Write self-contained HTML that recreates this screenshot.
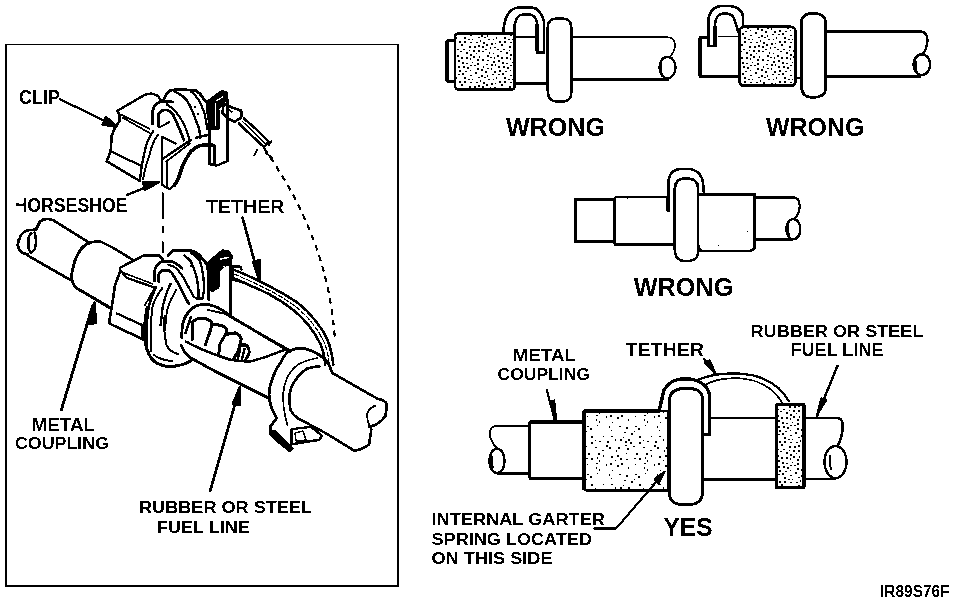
<!DOCTYPE html>
<html><head><meta charset="utf-8">
<style>
html,body{margin:0;padding:0;background:#fff;width:960px;height:604px;overflow:hidden}
svg{display:block}
text{font-family:"Liberation Sans",sans-serif;font-weight:bold;fill:#000}
</style></head><body>
<svg width="960" height="604" viewBox="0 0 960 604">
<defs>
<filter id="bin" x="0" y="0" width="100%" height="100%" color-interpolation-filters="sRGB"><feComponentTransfer><feFuncR type="discrete" tableValues="0 1"/><feFuncG type="discrete" tableValues="0 1"/><feFuncB type="discrete" tableValues="0 1"/></feComponentTransfer></filter>
<pattern id="st" width="40" height="40" patternUnits="userSpaceOnUse"><path d="M39 16h2v2h-2zM22 33h2v2h-2zM1 29h2v2h-2zM15 3h1v1h-1zM10 7h1v2h-1zM15 24h1v2h-1zM34 6h2v2h-2zM26 17h2v2h-2zM11 24h2v2h-2zM8 39h2v1h-2zM0 0h1v2h-1zM13 13h1v1h-1zM18 20h2v2h-2zM12 34h2v1h-2zM19 1h2v2h-2zM23 26h2v2h-2zM38 37h2v1h-2zM21 4h2v2h-2zM19 30h2v2h-2zM20 11h2v1h-2zM30 30h1v1h-1zM11 3h2v2h-2zM1 35h2v2h-2zM26 23h2v1h-2zM24 37h2v2h-2zM2 11h2v1h-2zM7 15h2v2h-2zM32 22h1v1h-1zM33 16h2v2h-2zM29 6h2v2h-2zM37 23h2v2h-2zM13 21h2v2h-2zM32 39h1v2h-1zM23 9h2v1h-2zM21 17h2v2h-2zM5 9h2v1h-2zM34 25h2v1h-2zM3 2h2v2h-2zM3 26h1v2h-1zM30 25h2v1h-2zM5 31h2v2h-2zM35 32h2v2h-2zM2 19h2v2h-2zM30 35h2v1h-2zM22 22h2v2h-2zM11 28h1v2h-1zM33 10h2v2h-2zM30 18h1v2h-1zM37 28h2v2h-2zM7 20h2v1h-2zM4 37h2v1h-2zM7 35h1v2h-1zM18 34h2v1h-2zM38 5h2v2h-2zM27 27h2v2h-2zM14 31h2v2h-2zM17 15h2v2h-2zM30 2h2v1h-2zM17 9h2v1h-2zM14 17h1v2h-1zM25 31h2v1h-2zM6 24h2v1h-2zM36 2h2v1h-2zM14 7h2v1h-2zM36 13h1v1h-1zM29 10h1v1h-1zM6 4h2v2h-2zM38 10h2v2h-2zM2 6h2v2h-2zM24 1h2v2h-2zM13 39h1v2h-1zM26 12h2v2h-2zM9 12h1v2h-1zM16 37h1v2h-1zM28 39h2v1h-2zM18 26h2v2h-2zM30 14h2v2h-2zM37 19h2v2h-2zM7 28h2v1h-2zM10 17h2v1h-2z" fill="#000"/></pattern>
<pattern id="st2" width="48" height="48" patternUnits="userSpaceOnUse"><path d="M10 26h2v1h-2zM44 26h2v2h-2zM40 18h1v2h-1zM30 13h2v2h-2zM30 32h1v2h-1zM11 32h1v1h-1zM33 15h2v2h-2zM0 0h2v1h-2zM23 37h1v2h-1zM27 4h1v1h-1zM9 14h2v1h-2zM14 44h2v2h-2zM2 27h2v1h-2zM39 28h1v1h-1zM2 21h1v1h-1zM34 31h2v2h-2zM44 7h2v2h-2zM41 23h2v2h-2zM1 9h2v2h-2zM47 5h2v1h-2zM7 1h2v2h-2zM35 46h1v1h-1zM21 25h1v2h-1zM31 9h2v2h-2zM11 42h2v1h-2zM15 4h2v2h-2zM43 42h2v1h-2zM4 7h2v2h-2zM35 24h2v2h-2zM12 21h2v2h-2zM26 18h2v1h-2zM23 28h1v2h-1zM20 31h2v1h-2zM45 31h2v2h-2zM4 35h1v2h-1zM36 38h1v1h-1zM20 35h1v2h-1zM39 7h1v2h-1zM22 21h2v2h-2zM19 15h2v1h-2zM6 10h2v2h-2zM27 23h1v2h-1zM2 43h2v2h-2zM33 42h1v2h-1zM15 26h2v2h-2zM10 47h1v2h-1zM42 15h2v2h-2zM15 10h2v2h-2zM35 4h2v1h-2zM3 16h2v2h-2zM21 41h1v1h-1zM41 33h2v2h-2zM1 13h2v1h-2zM23 9h2v1h-2zM19 8h1v1h-1z" fill="#000"/></pattern>
</defs>
<g filter="url(#bin)">
<rect width="960" height="604" fill="#fff"/>
<g fill="none" stroke="#000" stroke-width="2" stroke-linejoin="round" stroke-linecap="round">
<!-- left frame -->
<path d="M5 44h394v1.2h-394z M5 44h2v543h-2z M397 44h2v543h-2z M5 585h394v2h-394z" fill="#000" stroke="none"/>
</g>

<!-- diagram 1 -->
<g fill="none" stroke="#000" stroke-linejoin="round">
<path d="M454.5 40.5 H446.5 V81.5 H454.5" stroke-width="2"/>
<path d="M447.3 41 V81" stroke-width="3.5"/>
<rect x="455" y="33.5" width="60" height="56" rx="3.5" fill="url(#st)" stroke-width="2.6"/>
<path d="M515 37 H535" stroke-width="1.2"/>
<path d="M515 83.5 H547.5" stroke-width="3"/>
<path d="M503 33 L504.5 23 Q508 8 519 7.5 H532 Q540 8 544 21 V52.5 H536" stroke-width="2.6"/>
<path d="M514.8 88 V24 Q517 14.5 523 14.5 H530 Q535 15 537 22 V51" stroke-width="2.6"/>
<path d="M537.3 24 V51" stroke-width="4"/>
<path d="M547.8 91 V27 Q548 18.5 557 18.5 H563 Q571 19 571.2 27 V93 Q571 101.5 563 101.5 H557 Q548 101.5 547.8 91 Z" stroke-width="2.6"/>
<path d="M572 37.3 H668.5 Q674.5 38 675 45 Q675 52 669.5 57" stroke-width="1.6"/>
<path d="M572 79.8 H668.5" stroke-width="2.6"/>
<ellipse cx="667.5" cy="67.5" rx="8" ry="10.8" stroke-width="2.4"/>
<path d="M661 63 Q660 70 662 77" stroke-width="2"/>
</g>

<!-- diagram 2 -->
<g fill="none" stroke="#000" stroke-linejoin="round">
<path d="M707 37.5 H700 V76.5 H739" stroke-width="2.6"/>
<path d="M700.2 38 V76" stroke-width="4"/>
<path d="M718 36.5 H738" stroke-width="1.2"/>
<rect x="739.5" y="26.8" width="56" height="59" rx="4.5" fill="url(#st)" stroke-width="2.8"/>
<path d="M743 27 V16 Q741 6 728 6 H722 Q710 6.5 708.3 20 V46 H717" stroke-width="2.6"/>
<path d="M738.5 33 L734 18 Q731 13.5 726 13.5 H723 Q716 14 715 24 V45" stroke-width="2.6"/>
<path d="M714.8 26 V45" stroke-width="4"/>
<path d="M796 78 H801" stroke-width="2.4"/>
<path d="M801.3 86 V22 Q802 13.3 813 13.3 Q825.5 13.5 825.5 22 V89 Q825 97.5 813 97.5 Q801.5 97.5 801.3 86 Z" stroke-width="2.6"/>
<path d="M826 31.5 H921 Q927.5 32.5 927.5 40 Q927 50 922 54.5" stroke-width="2.4"/>
<path d="M826 76.6 H921" stroke-width="2.6"/>
<ellipse cx="921.8" cy="64.6" rx="8.3" ry="10.4" stroke-width="2.4"/>
<path d="M916 61 Q915 67 917 73" stroke-width="2"/>
</g>

<!-- diagram 3 -->
<g fill="none" stroke="#000" stroke-linejoin="round">
<path d="M614.5 199.2 H575.2 V241.5 H614.5" stroke-width="2.6"/>
<path d="M614.5 197.5 V244.5" stroke-width="2.6"/>
<path d="M614.5 197 H668" stroke-width="1.6"/>
<path d="M614.5 244.5 H675" stroke-width="2.8"/>
<path d="M668.5 212 V182 Q669.5 169 681 169 H688 Q701 169.5 703 183 L704 194" stroke-width="2.6"/>
<path d="M668.3 196 V211" stroke-width="4"/>
<path d="M674.8 250 V188 Q675.5 178.2 686 178.2 Q698 178.5 698.2 188 V252 Q698 261.2 686 261.2 Q675 261 674.8 250 Z" stroke-width="2.6"/>
<path d="M698.5 194.2 H754.8 V246 Q754.5 251 748.5 251 H703 Q699.5 251 698.5 246" stroke-width="2.6"/>
<path d="M755 197.7 H795 Q799.5 198.5 799.7 206 Q799.5 214 794 219" stroke-width="2.2"/>
<path d="M755 239.5 H793" stroke-width="2.6"/>
<ellipse cx="793.3" cy="229.2" rx="7" ry="10.2" stroke-width="2.4"/>
<path d="M788 225 Q787.5 230 789 236" stroke-width="2"/>
<path d="M731.5 217.5h1v1h-1zM731.5 221.5h1v1h-1zM747 231h1v1h-1zM718 245h1v1h-1zM627 198h1v1h-1z" fill="#000" stroke="none"/>
</g>

<!-- diagram 4 YES -->
<g fill="none" stroke="#000" stroke-linejoin="round">
<path d="M529 425.8 H496 Q490 426.5 489.8 433 Q490 442 498 449" stroke-width="1.8"/>
<path d="M529 473.3 H497" stroke-width="2.6"/>
<ellipse cx="497" cy="461" rx="7.6" ry="12.2" stroke-width="2.4"/>
<path d="M492 456 Q491 462 493 468" stroke-width="2"/>
<path d="M529.5 422 H583 M529.5 478.5 H583" stroke-width="2.8"/>
<path d="M529.5 422 V478.5" stroke-width="3.2"/>
<path d="M584 411 H659 L664 390 Q670 379 684 378.6 Q706 379 709.5 395 V434.5 H704" stroke-width="3.4" fill="#fff"/>
<path d="M584 411 H668 V490.5 H588 Q584 490.5 584 486 Z" stroke-width="2.6" fill="url(#st2)"/>
<path d="M584 411 V490" stroke-width="3.4"/>
<path d="M702.3 397 Q701 388 686 388.3 Q670 388.5 669.5 400 V494 Q670 505 686 505 Q701.5 505 702.3 494 Z" stroke-width="3" fill="#fff"/>
<path d="M710 418 H776 M702.5 479.2 H776" stroke-width="2.6"/>
<path d="M697 380 Q716 372 740 373.6 Q775 376 789.5 402" stroke-width="2.4"/>
<path d="M703 385.5 Q720 377 740 378.3 Q770 381 782.5 403.5" stroke-width="1.6"/>
<rect x="776.5" y="404.5" width="27.5" height="83" fill="url(#st)" stroke-width="3"/>
<path d="M804.5 418 H838 Q843 419 842.8 427 Q842 439 837 446.5 M804.5 479 H836" stroke-width="2.6"/>
<ellipse cx="835.5" cy="462" rx="11" ry="16" stroke-width="2.4"/>
<path d="M830 455 Q829 462 831 470" stroke-width="2"/>
<!-- arrows -->
<path d="M546.5 389 L555 421" stroke-width="2.2"/>
<path d="M550 402 L556.5 421 L554.5 400 Z" fill="#000" stroke-width="1.5"/>
<path d="M703.5 358.5 L716 375" stroke-width="2.2"/>
<path d="M704 363 L716.5 375 L710 360 Z" fill="#000" stroke-width="1.5"/>
<path d="M837.8 365 L817 416" stroke-width="2.4"/>
<path d="M821 398 L816.5 416 L826.5 400 Z" fill="#000" stroke-width="1.5"/>
<path d="M593.5 528.6 H616 L663 474" stroke-width="2.2"/>
<path d="M654 479 L665 471 L659 484 Z" fill="#000" stroke-width="1.5"/>
</g>

<!-- left illustration -->
<g fill="none" stroke="#000" stroke-width="2.4" stroke-linejoin="round" stroke-linecap="round">
<!-- CLIP arrow -->
<path d="M59.6 99 L112 124.5"/>
<path d="M116.5 126.7 L102.5 124.5 L106 117 Z" fill="#000"/>
<!-- upper clip block -->
<path d="M117.4 110.7 L144.7 94.9 L151.3 93.3 L157.9 95.8 L161.2 100.7" stroke-width="2.4"/>
<path d="M121.5 114.8 L149.6 128.9" stroke-width="2"/>
<path d="M123.1 118 L149.6 133" stroke-width="1.8"/>
<path d="M117.4 110.7 L119.8 116.5 L119.8 120.6 L114.9 128 L111.6 136.3 L110.7 151.2 L106.6 161.2 L139.7 181" stroke-width="2.6"/>
<path d="M110.7 151.2 L141.4 166.1" stroke-width="2.2"/>
<!-- horseshoe arms -->
<path d="M153 131.4 Q147 140 144.7 151.2 Q141.5 165 139.7 181" stroke-width="2.4"/>
<path d="M157.9 134.7 Q152 143 149.6 154.5 Q145 167 143 179.4" stroke-width="2"/>
<!-- horseshoe upper arch -->
<path d="M163.2 100.9 Q166 93 170.1 90.4 L178.2 89.3 L195.6 90.4 Q200 93 202.6 97.4 L207.2 103.2 Q209.5 115 209.5 128.7 V133.3" stroke-width="2.8"/>
<path d="M152.7 124 V111.3 Q153.5 106 156.2 104.3 Q159 101.5 163.2 100.9 L172.4 102" stroke-width="2.8"/>
<path d="M158.5 126.3 V114.8 Q159.5 111 163.2 110.1 Q167.5 109.5 170.1 111.3 Q173 114 174.8 118.2 L179.4 128.7 L184 140.3" stroke-width="2.8"/>
<path d="M166.7 104.3 Q173 108 178.2 114.8 Q183 121 186.4 129.8 L189.8 141.4" stroke-width="2.2"/>
<path d="M174.8 91.6 Q181 94 186.4 99.7 Q190.5 106 193.3 113.6 L199.1 128.7 L200.3 137.9" stroke-width="2.4"/>
<path d="M191 91.6 Q197 96 200.3 103.2 Q203 108.5 204.9 114.8 L207.2 128.7" stroke-width="2.2"/>
<path d="M195.6 137.9 L209.5 134.5" stroke-width="2.4"/>
<path d="M194 106h2v2h-2z M197 113h2v2h-2z" fill="#000" stroke="none"/>
<!-- post upper -->
<path d="M206.5 101.8 L211.9 97.9 L216.8 93.9 L221.8 90.5 L226.8 92.2 L227.5 99.9 L223.8 102.8 L218.8 108.8 V129.2 H210 L206.5 109.8 Z" fill="#000" stroke-width="1.4"/>
<path d="M215.6 104 V125" stroke="#fff" stroke-width="1.3"/>
<path d="M217 100.5 L222.5 97" stroke="#fff" stroke-width="1.3"/>
<path d="M227.3 100 V160.5" stroke-width="2.8"/>
<!-- horseshoe front face / legs -->
<path d="M162.3 136.5 V185 L169.4 189.2 L174.8 184.9" stroke-width="2.2"/>
<path d="M167 162.3 V188" stroke-width="1.8"/>
<path d="M164 158 L190.9 139.7" stroke-width="2.4"/>
<path d="M166 161.8 L189.8 143.5" stroke-width="1.8"/>
<path d="M163 137.5 L175.8 143.5" stroke-width="2.4"/>
<path d="M169.2 122.2 L160 127" stroke-width="1.9"/>
<path d="M174.8 184.9 Q177 181 179.1 176.3 Q181 171 182.3 166.6 Q186 158 190.9 151.5 Q194 148 198.4 146.1 Q203 144.5 208.1 144.5 Q212 144.8 214.6 146.1" stroke-width="3.6"/>
<path d="M209.5 131.3 V164.1 L216.7 165.5 L227.5 161.2" stroke-width="2.4"/>
<path d="M214.5 148.3 V164" stroke-width="3.6"/>
<!-- upper tether end -->
<path d="M223.8 103.8 L232.7 107.8 L241.2 110.8 V117.7 L234.7 121.7 L227.8 118.7 L222.3 112.8 Z" stroke-width="2.6"/>
<path d="M226.5 108.5 L232 112" stroke-width="1.6"/>
<path d="M244 118.5 L257 130 L268.9 141.8 L264 147 L252 136 L239.2 123.5" stroke-width="2.6"/>
<path d="M242.5 121.5 L264.5 143" stroke-width="1.3"/>
<path d="M271.5 141 L268.9 144.9 M257 150.2 L254.3 155.5 M266.2 152.9 L272.2 158.2" stroke-width="2.0"/>
<!-- dashed arc -->
<path d="M264 148 C300 200 330 260 335 341" stroke-width="2.2" stroke-dasharray="6 5" stroke-linecap="butt"/>
<!-- HORSESHOE arrow -->
<path d="M126.7 195.2 L152 184.8"/>
<path d="M158.7 182.1 L145 190 L143 182 Z" fill="#000"/>
<!-- vertical dashed -->
<path d="M162.7 192.6 V219 M162.7 225.7 V233 M162.7 241.6 V253" stroke-width="2" stroke-linecap="butt"/>

<!-- LOWER ASSEMBLY -->
<!-- left pipe end -->
<path d="M39.8 221.9 Q43 218.5 47.8 218.9 L52.7 219.9 L89.5 242.8" stroke-width="2.6"/>
<path d="M39.8 221.9 L35.8 229.9 Q29 229.5 25.9 230.9 Q20.5 234 19.9 237.8 Q17.5 241 17.9 245.8 Q19 251 21.9 252.7 L27.9 254.7" stroke-width="2.8"/>
<path d="M31.5 233 Q27.5 236 27.9 243 Q28 250 31 252.7 Q35.5 251 35.8 243 Q36 236 34.5 232.8" stroke-width="2.4"/>
<path d="M29.5 238 Q28 242 29.5 247" stroke-width="1.4"/>
<path d="M27.9 255.7 L69.6 279.5" stroke-width="2.6"/>
<!-- coupling -->
<path d="M89.5 242.8 Q82 246 79.5 251.7 Q75 258 73.6 265.6 Q71.5 272 71.6 277.6 Q72.5 284 75.6 287.5 L109.3 307.4" stroke-width="3.0"/>
<path d="M89.5 242.8 Q96 241 101.4 241.8 L113.3 247.8 L132.8 259.9" stroke-width="2.6"/>
<!-- lower clip block -->
<path d="M119.9 267.8 L142.8 255.9 L158.6 254.9 L162.6 258.9" stroke-width="2.6"/>
<path d="M119.9 269.8 L126.9 277.8 L154.7 287.7"/>
<path d="M124 273 L153 284" stroke-width="1.4"/>
<path d="M119.9 271.8 L114.9 285.7 L112.9 299.6 L109 323.4 L142.8 339.3 V325.4" stroke-width="2.6"/>
<path d="M116.9 313.5 L142.8 325.4"/>
<path d="M144.7 305.6 L154.7 287.7" stroke-width="1.9"/>
<!-- lower horseshoe arch -->
<path d="M168.2 255.4 L172.8 250.8 L191.3 250.8 Q196 252 199.5 255.4 L207.6 264.7 Q209 280 209 300" stroke-width="3"/>
<path d="M154.3 281 V271.7 Q155 267 157.7 264.7 Q160 262 163.5 261.2 L171.7 261.2 Q177 263.5 182.1 268.2" stroke-width="2.8"/>
<path d="M158.9 282.1 V274 Q160 271 163.5 270.5 H169.3 Q172 272.5 174 276.3 L178.6 284.4 L184.4 296 L189 304.1" stroke-width="2.8"/>
<path d="M168.2 264.7 Q173 266 176.3 268.2 Q180 272 183.2 277.4 L189 287.9 L193.7 297.1" stroke-width="2.2"/>
<path d="M184.4 255.4 Q188.5 258.5 191.3 262.4 Q194 268 196 275.1 Q198 282 198.3 289 V298.3" stroke-width="2.4"/>
<path d="M191.3 253.1 Q196 256 199.5 260.1 Q202 266 202.9 274 Q204 281 204.1 289 L202.9 297.1" stroke-width="2.4"/>
<path d="M196 298.3 H202.9" stroke-width="2.4"/>
<path d="M189.5 259.5h2v2h-2z M190.5 265h2v2h-2z" fill="#000" stroke="none"/>
<!-- horseshoe arms lower -->
<path d="M156 287 Q150 300 148.7 307.6 Q146 320 146.8 347.3" stroke-width="2.6"/>
<path d="M162.6 287.7 Q155 298 152.7 305.6 Q150.5 318 150.7 351.3" stroke-width="2.0"/>
<path d="M170.6 283.7 Q165 295 162.6 307.6 L160.6 325.4" stroke-width="2.4"/>
<path d="M176 290 Q170 300 167 310 L165 330" stroke-width="1.8"/>
<!-- big disc -->
<path d="M147.1 307.5 Q143.5 325 145 340 Q147 356 155 362 Q162 366.5 170 366.5 Q182 366 190.8 361" stroke-width="3.0"/>
<path d="M154 355 Q160 360 172 361" stroke-width="1.8"/>
<path d="M164.6 315.5 Q163 330 166.6 345.3 Q170 352 178 354" stroke-width="2.0"/>
<!-- lower post -->
<path d="M207.9 262.8 L212.9 257.9 L218.8 252.9 L222.8 249.9 L228.8 250.9 L232.2 255.9 L230.8 265.8 L226.8 264.8 L219.8 270.8 L218.8 287.7 L211.9 291.6 L208.9 283.7 L207.9 269.8 Z" fill="#000" stroke-width="1.4"/>
<path d="M220.5 259 L228 257.5 M224 266.5 L228.5 270" stroke="#fff" stroke-width="1.3"/>
<path d="M230.2 265 V314.2" stroke-width="2.8"/>
<path d="M231.7 266.5 H240.7 L241.7 269.8 M232.7 268.8 V279.7 L240.7 281.7" stroke-width="2.2"/>
<!-- lower tether band -->
<path d="M234.8 270.1 Q252 277 269.6 286.4 Q285 294 297.4 302.6 Q308 311 315.9 321.2 Q323 330 327.5 339.7 Q332 351 333.3 365.2" stroke-width="2.6"/>
<path d="M233.6 278.3 Q252 286 269.6 294.5 Q282 301 292.7 309.6 Q302 317 309 325.8 Q316 335 320.6 344.3 Q324.5 354 325.2 365.2" stroke-width="2.6"/>
<path d="M234 274 Q252 281.5 269.6 290.5 Q284 298 295 306 Q305 314 312.5 323.5 Q319.5 332.5 324 342 Q328.5 353 329.2 365" stroke-width="1.2" stroke-dasharray="5 2"/>
<!-- cage -->
<path d="M181.9 337.7 Q181.5 326 183.9 319.8 Q188 310 195.8 305.9 Q202 304 209.7 304.9 Q220 307 229.6 315.8 L290 351.6" stroke-width="2.8"/>
<path d="M207.8 309.9 L224 313.5 L288 349" stroke-width="1.8"/>
<path d="M185.9 341.7 Q205 352 229.6 359.5 Q240 361.5 249.5 361.5 Q260 359 269.3 355.6 L285.2 349.6" stroke-width="2.6"/>
<path d="M181.25 345 L184 351 L190 357.5 L215 371.25 L240 383.75 L267.5 397.5" stroke-width="2.8"/>
<!-- springs -->
<path d="M192.2 339.7 L192.2 322.5 Q196 318 202.8 317.9 Q209 318.5 212.1 323.2 L210.8 329.1 L205.5 344.5" stroke-width="3.0"/>
<path d="M212.5 324.5 Q219 324.5 224 326.5 Q227.5 329 226.7 332.5 L220 343.7 L218.7 354.3" stroke-width="3.0"/>
<path d="M227.5 334.4 Q232 332.5 235.9 333.1 Q240.5 335 241.2 339 L238.6 350.3 L233.3 359.6" stroke-width="3.0"/>
<path d="M239.9 345 L246.5 345 Q249.5 348 249.2 353 L245.2 360.9" stroke-width="2.8"/>
<path d="M240 350 L237.5 360 M244.5 349 L242 359" stroke-width="2.4"/>
<path d="M190.9 317.2 L185.6 333.1" stroke-width="2.6"/>
<!-- collar -->
<path d="M289.5 350.5 Q284 355 280.8 362.3 Q275 370 272.2 379.5 Q269 387 269 394.6 Q269.5 403 272.2 409.7 L276.5 418.3 L270.1 426.9 V433.4 L278.7 442 L289.5 450.6" stroke-width="2.8"/>
<path d="M289.5 350.5 Q297 348 304.5 348.3 Q311 350 317.5 353.7 Q322 356.5 326.1 360.2 Q330 366 332.5 373.1" stroke-width="2.8"/>
<path d="M317.5 358 Q306 360 298.1 364.5 Q291 370 287.3 377.4 Q283.5 386 283 394.6 Q283 406 285.2 416.2 L287.3 424.8" stroke-width="1.7"/>
<path d="M319.6 366.6 Q312 366.5 306.7 368.8 Q300 373 295.9 379.5 Q291 386 289.5 394.6 Q289 403 290.5 409.7 Q293 415 298.1 418.3 L326.1 433.4" stroke-width="2.6"/>
<path d="M270.5 431 L289.5 450.6 L293 448.5 L275 431 Z" fill="#000" stroke-width="1.9"/>
<!-- right pipe -->
<path d="M332.5 373.1 L377.8 398.9 Q384 400 386.4 403.2 Q387 410 385.3 416.2 Q381 422 375.6 424.8 L369.1 426.9" stroke-width="2.6"/>
<path d="M375.6 405.4 Q368 409 367 414 Q367 420 369.1 424.8" stroke-width="1.8"/>
<path d="M326.1 433.4 L354.1 450.6 Q362 450 369.1 444.2 L371.3 429.1" stroke-width="2.6"/>
<!-- tab -->
<path d="M291.6 429.1 L311 426.9 L321.8 435.5 L319.6 439.8 L291.6 444.2 Z" stroke-width="2.4"/>
<path d="M295 433 L303 431 L306 440 L296 441 Z" stroke-width="1.4"/>
<!-- arrows -->
<path d="M61.3 410 L92.5 306" stroke-width="2.8"/>
<path d="M94.5 302.5 L88.5 324 L96 323 Z" fill="#000"/>
<path d="M210.2 490.9 L239 390" stroke-width="2.8"/>
<path d="M240 386.9 L232.7 404 L240 405 Z" fill="#000"/>
<path d="M242.5 217.5 L259 278" stroke-width="2.8"/>
<path d="M259.5 281 L253 262 L260 260 Z" fill="#000"/>
</g>
<!-- texts -->
<g>
<text x="19.00" y="103.75" font-size="20.35" textLength="41.11" lengthAdjust="spacingAndGlyphs">CLIP</text>
<text x="14.50" y="212.00" font-size="20.00" textLength="113.04" lengthAdjust="spacingAndGlyphs">HORSESHOE</text>
<path d="M15 197h3v6h-3z M15 206h3v8h-3z" fill="#fff"/>
<text x="206.00" y="213.00" font-size="17.83" textLength="78.51" lengthAdjust="spacingAndGlyphs">TETHER</text>
<text x="31.50" y="431.00" font-size="19.25" textLength="63.55" lengthAdjust="spacingAndGlyphs">METAL</text>
<text x="15.00" y="449.00" font-size="17.16" textLength="94.07" lengthAdjust="spacingAndGlyphs">COUPLING</text>
<text x="139.00" y="512.50" font-size="17.16" textLength="173.02" lengthAdjust="spacingAndGlyphs">RUBBER OR STEEL</text>
<text x="157.00" y="532.50" font-size="17.19" textLength="92.79" lengthAdjust="spacingAndGlyphs">FUEL LINE</text>
<text x="506.00" y="136.00" font-size="25.43" textLength="99.04" lengthAdjust="spacingAndGlyphs">WRONG</text>
<text x="766.00" y="136.00" font-size="25.43" textLength="98.52" lengthAdjust="spacingAndGlyphs">WRONG</text>
<text x="633.75" y="296.00" font-size="25.43" textLength="99.54" lengthAdjust="spacingAndGlyphs">WRONG</text>
<text x="663.50" y="535.50" font-size="26.14" textLength="49.05" lengthAdjust="spacingAndGlyphs">YES</text>
<text x="512.75" y="361.00" font-size="17.20" textLength="63.31" lengthAdjust="spacingAndGlyphs">METAL</text>
<text x="497.50" y="379.75" font-size="15.73" textLength="92.54" lengthAdjust="spacingAndGlyphs">COUPLING</text>
<text x="625.50" y="356.00" font-size="19.25" textLength="78.52" lengthAdjust="spacingAndGlyphs">TETHER</text>
<text x="750.50" y="336.50" font-size="17.20" textLength="173.01" lengthAdjust="spacingAndGlyphs">RUBBER OR STEEL</text>
<text x="790.50" y="356.25" font-size="18.89" textLength="93.04" lengthAdjust="spacingAndGlyphs">FUEL LINE</text>
<text x="431.50" y="525.00" font-size="15.73" textLength="173.52" lengthAdjust="spacingAndGlyphs">INTERNAL GARTER</text>
<text x="431.50" y="545.00" font-size="15.97" textLength="160.52" lengthAdjust="spacingAndGlyphs">SPRING LOCATED</text>
<text x="431.50" y="564.00" font-size="15.79" textLength="121.03" lengthAdjust="spacingAndGlyphs">ON THIS SIDE</text>
<text x="880.00" y="596.50" font-size="15.79" textLength="69.55" lengthAdjust="spacingAndGlyphs">IR89S76F</text>
</g>
</g>
</svg>
</body></html>
